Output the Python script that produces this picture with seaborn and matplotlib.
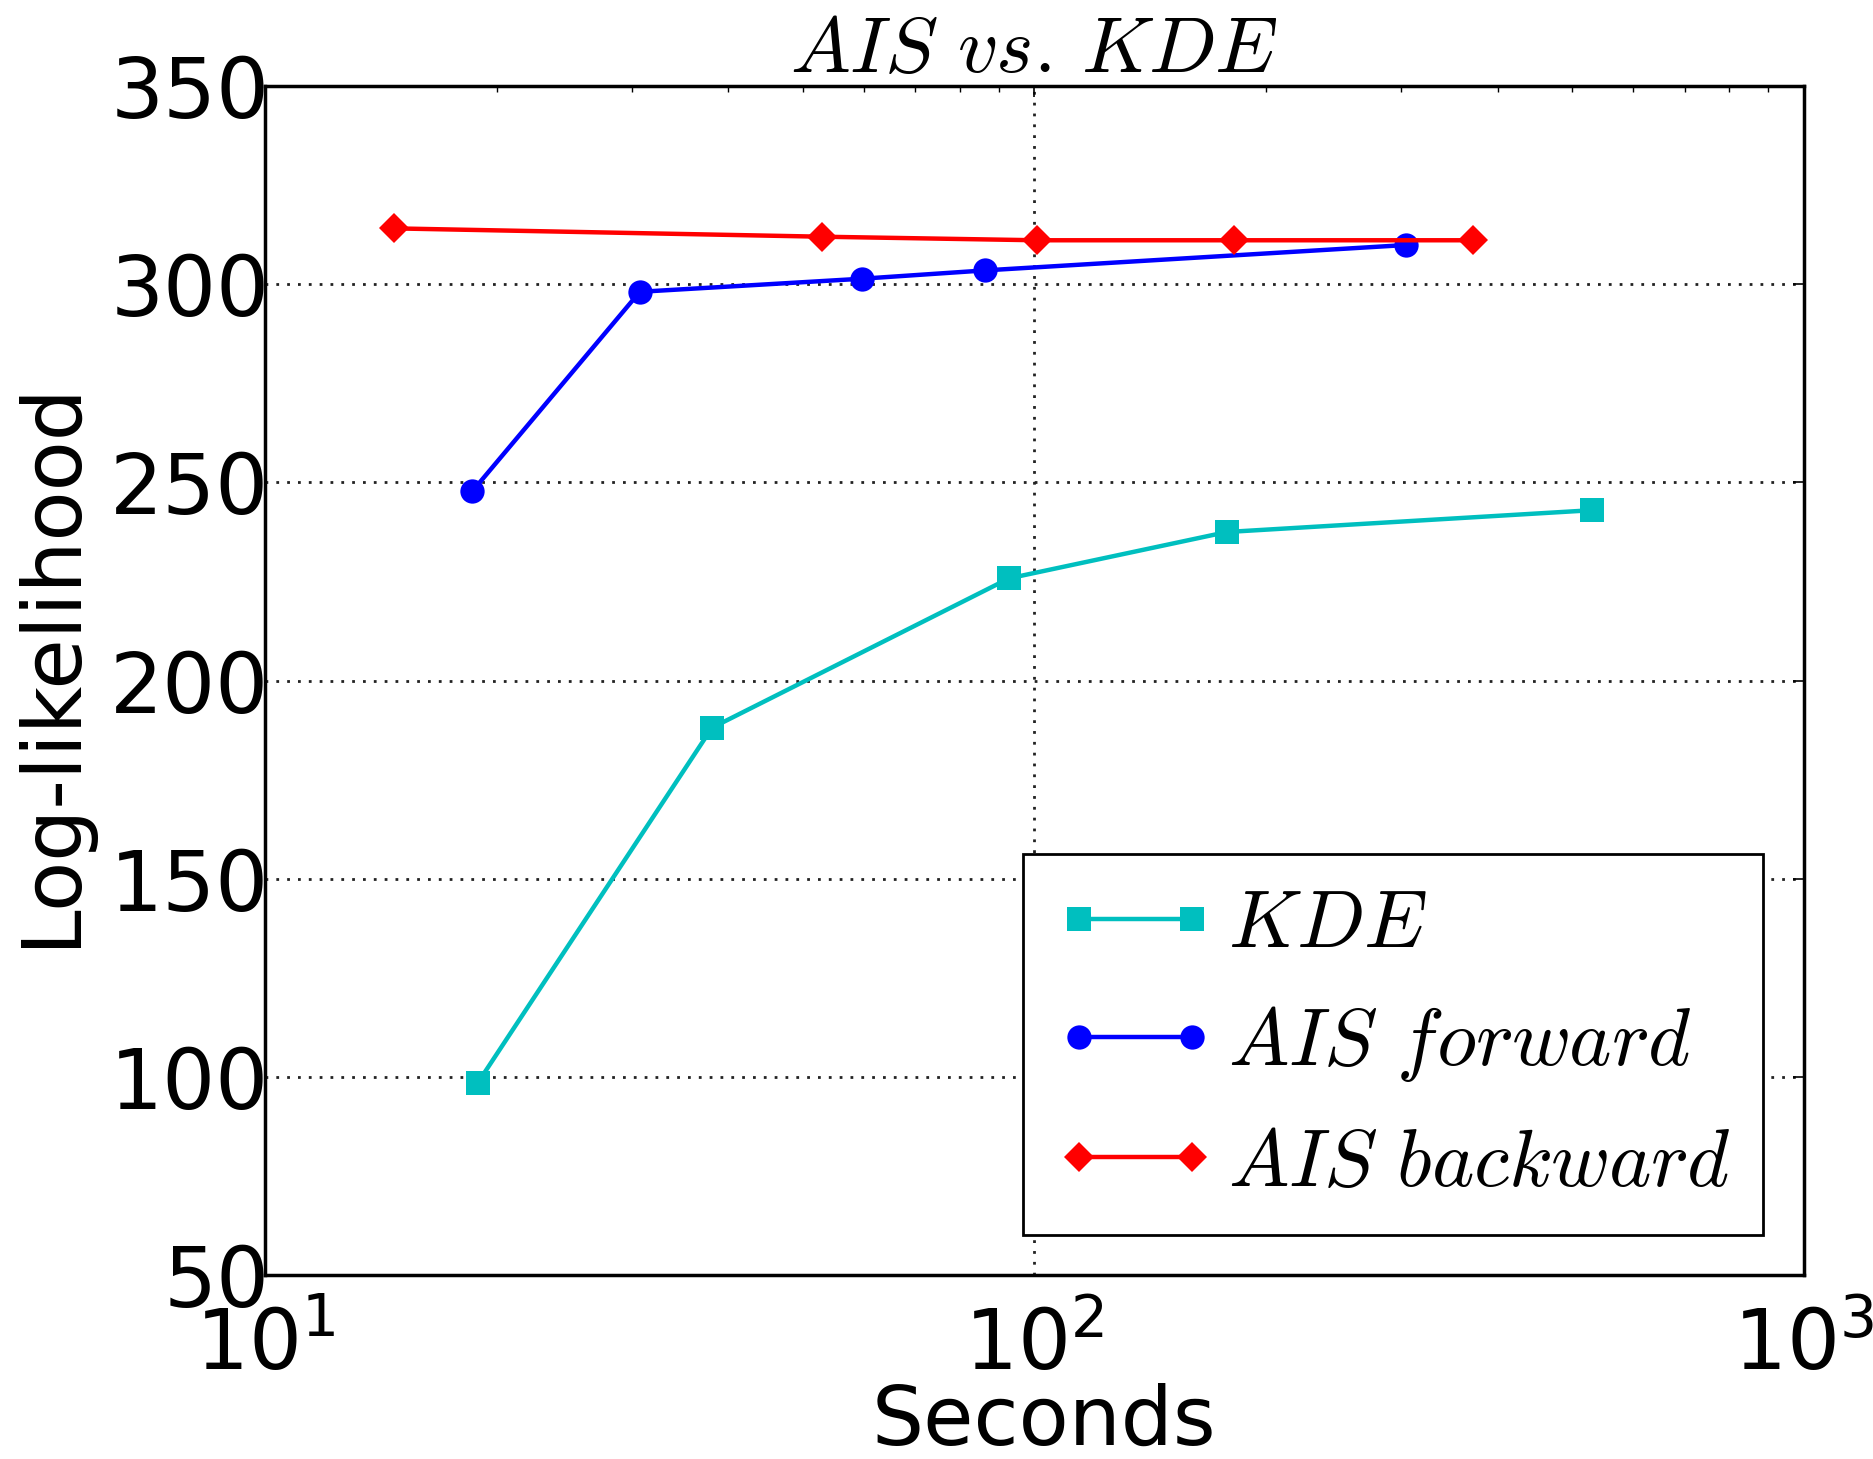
import numpy as np
import pandas as pd
import matplotlib
matplotlib.use('Agg')
import matplotlib.pyplot as plt
import seaborn as sns

# ---- donnees ----
kde_sec = [18.9, 38.1, 92.7, 178, 531]
kde_ll = [98.5, 188.1, 225.8, 237.5, 243.0]

fwd_sec = [18.6, 30.7, 59.7, 86.3, 304]
fwd_ll = [247.8, 298.1, 301.4, 303.5, 309.9]

bwd_sec = [14.7, 52.9, 100.7, 181.5, 371.5]
bwd_ll = [314.1, 312.0, 311.1, 311.1, 311.1]

series = [
    (kde_sec, kde_ll, r'$KDE$', '#00BFBF', 's', 17.5),
    (fwd_sec, fwd_ll, r'$AIS\ forward$', '#0000FF', 'o', 17.5),
    (bwd_sec, bwd_ll, r'$AIS\ backward$', '#FF0000', 'D', 15.5),
]

sns.set_style('white', rc={'text.color': 'black', 'axes.labelcolor': 'black',
                           'xtick.color': 'black', 'ytick.color': 'black'})
plt.rcParams['font.family'] = ['DejaVu Sans']
plt.rcParams['mathtext.fontset'] = 'cm'
plt.rcParams['xtick.direction'] = 'in'
plt.rcParams['ytick.direction'] = 'in'

fig = plt.figure(figsize=(18.73, 14.59), dpi=100)
ax = fig.add_axes([0.1415, 0.126, 0.8215, 0.815])

for xs, ys, lab, col, mk, ms in series:
    df = pd.DataFrame({'sec': xs, 'll': ys})
    sns.lineplot(data=df, x='sec', y='ll', ax=ax, color=col, marker=mk,
                 markersize=ms, markeredgewidth=0, linewidth=3.2, label=lab)

ax.set_xscale('log')
ax.set_xlim(10, 1000)
ax.set_ylim(50, 350)
ax.set_yticks(np.arange(50, 351, 50))
ax.grid(True, which='major', linestyle=(0, (1, 2.9)), color='#222222', linewidth=2)

for sp in ax.spines.values():
    sp.set_linewidth(2.5)
    sp.set_color('black')

ax.tick_params(axis='both', which='major', labelsize=60, length=8, width=1.2,
               top=True, right=True)
ax.tick_params(axis='y', which='major', pad=-3)
ax.tick_params(axis='x', which='major', pad=22)
ax.tick_params(axis='both', which='minor', length=4, width=1, top=True, right=True)

ax.set_title(r'$AIS\ vs.\,KDE$', fontsize=57.5, pad=10)
ax.set_xlabel('Seconds', fontsize=59, labelpad=-3)
ax.set_ylabel('Log-likelihood', fontsize=59, labelpad=14)
ax.xaxis.label.set_x(0.506)
ax.yaxis.label.set_y(0.514)

leg = ax.legend(loc='lower right', fontsize=58, frameon=True, fancybox=False,
                borderaxespad=0.5, handlelength=2.0, labelspacing=0.5,
                borderpad=0.4, handletextpad=0.15, numpoints=2)
leg.get_frame().set_edgecolor('black')
leg.get_frame().set_linewidth(2)
leg.get_frame().set_alpha(1)

fig.savefig('out.png', dpi=100)
